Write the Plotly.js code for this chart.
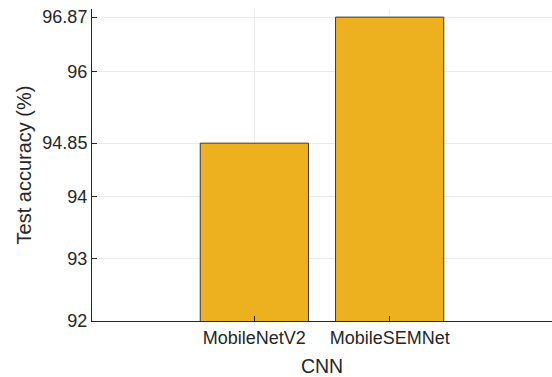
<!DOCTYPE html>
<html>
<head>
<meta charset="utf-8">
<script src="https://cdn.plot.ly/plotly-3.0.1.min.js"></script>
<style>
  html, body { margin: 0; padding: 0; background: #fff; }
  #chart { width: 552px; height: 377px; }
</style>
</head>
<body>
<div id="chart"></div>
<script>
// Test accuracy of the two CNN models
const models = ["MobileNetV2", "MobileSEMNet"];
const accuracy = [94.85, 96.87];
const yTickVals = [92, 93, 94, 94.85, 96, 96.87];
const yTickText = ["92", "93", "94", "94.85", "96", "96.87"];

const ink = "#262626";
const font = "Liberation Sans, Arial, Helvetica, sans-serif";

const trace = {
  type: "bar",
  x: models,
  y: accuracy,
  width: 0.8,
  marker: { color: "#EDB120", line: { color: "#3a3a3a", width: 1 } },
  hoverinfo: "x+y"
};

const layout = {
  width: 552,
  height: 377,
  margin: { l: 92, r: 0, t: 9, b: 56 },
  paper_bgcolor: "#ffffff",
  plot_bgcolor: "#ffffff",
  showlegend: false,
  font: { family: font, color: ink, size: 18 },
  xaxis: {
    type: "category",
    range: [-1.2, 2.2],
    showline: true,
    linecolor: ink,
    linewidth: 1,
    ticks: "inside",
    ticklen: 5,
    tickcolor: ink,
    showgrid: true,
    gridcolor: "#ebebeb",
    tickfont: { family: font, size: 18, color: ink },
    title: { text: "CNN", font: { family: font, size: 19.5, color: ink }, standoff: 12 },
    zeroline: false
  },
  yaxis: {
    range: [92, 97],
    tickmode: "array",
    tickvals: yTickVals,
    ticktext: yTickText,
    showline: true,
    linecolor: ink,
    linewidth: 1,
    ticks: "inside",
    ticklen: 5,
    tickcolor: ink,
    showgrid: true,
    gridcolor: "#ebebeb",
    tickfont: { family: font, size: 18, color: ink },
    title: { text: "Test accuracy (%)", font: { family: font, size: 20, color: ink }, standoff: 5 },
    zeroline: false
  }
};

Plotly.newPlot("chart", [trace], layout, { displayModeBar: false, staticPlot: true });
</script>
</body>
</html>
